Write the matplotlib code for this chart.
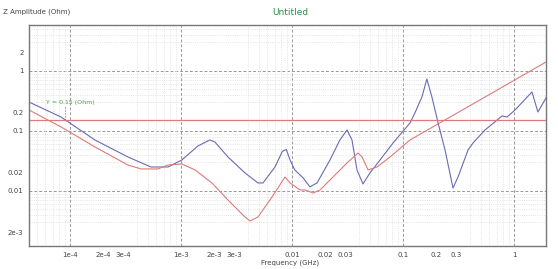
import matplotlib
matplotlib.use('Agg')
import matplotlib.pyplot as plt
import matplotlib.ticker as mticker

# frequency (GHz) / impedance (Ohm) points
blueFreq = [4.28e-5, 8.3e-5, 1.68e-4, 3.33e-4, 5.37e-4, 7.64e-4, 1.02e-3, 1.42e-3,
            1.82e-3, 2.02e-3, 2.65e-3, 3.77e-3, 4.94e-3, 5.48e-3, 7.03e-3, 8.2e-3,
            8.9e-3, 9.6e-3, 1.06e-2, 1.26e-2, 1.45e-2, 1.68e-2, 2.2e-2, 2.7e-2,
            3.13e-2, 3.47e-2, 3.85e-2, 4.36e-2, 5.04e-2, 6.21e-2, 8.13e-2, 0.1156,
            0.128, 0.148, 0.164, 0.182, 0.207, 0.239, 0.282, 0.313, 0.385, 0.427,
            0.548, 0.78, 0.865, 1.02, 1.45, 1.64, 1.94]
blueZ = [0.304, 0.171, 0.0708, 0.0369, 0.0251, 0.0251, 0.0329, 0.0562,
         0.0708, 0.0656, 0.0369, 0.0200, 0.0136, 0.0136, 0.0251, 0.046,
         0.049, 0.0329, 0.0224, 0.0165, 0.0117, 0.0136, 0.0329, 0.0708,
         0.104, 0.0708, 0.0224, 0.0131, 0.0200, 0.0329, 0.0631, 0.136,
         0.2, 0.369, 0.735, 0.369, 0.136, 0.0482, 0.0112, 0.0171, 0.0482, 0.0631,
         0.104, 0.178, 0.171, 0.224, 0.447, 0.207, 0.355]

redFreq = [4.28e-5, 8.3e-5, 1.68e-4, 3.33e-4, 4.37e-4, 6.21e-4, 7.64e-4, 1.02e-3,
           1.34e-3, 1.9e-3, 2.65e-3, 3.77e-3, 4.19e-3, 4.94e-3, 6.61e-3, 8.65e-3,
           9.6e-3, 1.18e-2, 1.31e-2, 1.55e-2, 1.79e-2, 2.34e-2, 3.13e-2, 3.93e-2,
           4.28e-2, 4.84e-2, 5.83e-2, 7.64e-2, 0.1156, 0.474, 1.94]
redZ = [0.224, 0.117, 0.0541, 0.0271, 0.0233, 0.0233, 0.0271, 0.0282,
        0.0224, 0.0136, 7.08e-3, 3.69e-3, 3.16e-3, 3.69e-3, 7.94e-3, 0.0171,
        0.0136, 0.0104, 0.0104, 9.26e-3, 0.0104, 0.0171, 0.0293, 0.0430,
        0.0369, 0.0224, 0.0251, 0.0369, 0.0708, 0.316, 1.41]

targetZ = 0.15
xTicks = [1e-4, 2e-4, 3e-4, 1e-3, 2e-3, 3e-3, 0.01, 0.02, 0.03, 0.1, 0.2, 0.3, 1, 2]
xTickLabels = ['1e-4', '2e-4', '3e-4', '1e-3', '2e-3', '3e-3', '0.01', '0.02', '0.03',
               '0.1', '0.2', '0.3', '1', '2']
yTicks = [2, 1, 0.2, 0.1, 0.02, 0.01, 2e-3]
yTickLabels = ['2', '1', '0.2', '0.1', '0.02', '0.01', '2e-3']

fig = plt.figure(figsize=(5.58, 2.69), dpi=100)
ax = fig.add_axes([0.052, 0.0855, 0.9265, 0.8215])

ax.plot(blueFreq, blueZ, color='#6a6ab4', lw=0.8)
ax.plot(redFreq, redZ, color='#e07a7a', lw=0.8)
ax.axhline(targetZ, color='#e07a7a', lw=0.9)

ax.set_xscale('log')
ax.set_yscale('log')
ax.set_xlim(4.28e-5, 1.94)
ax.set_ylim(1.21e-3, 5.84)

ax.xaxis.set_major_locator(mticker.FixedLocator(xTicks))
ax.xaxis.set_major_formatter(mticker.FixedFormatter(xTickLabels))
ax.yaxis.set_major_locator(mticker.FixedLocator(yTicks))
ax.yaxis.set_major_formatter(mticker.FixedFormatter(yTickLabels))
ax.xaxis.set_minor_locator(mticker.LogLocator(base=10, subs=[1, 2, 3, 4, 5, 6, 7, 8, 9], numticks=20))
ax.yaxis.set_minor_locator(mticker.LogLocator(base=10, subs=[1, 2, 3, 4, 5, 6, 7, 8, 9], numticks=20))
ax.xaxis.set_minor_formatter(mticker.NullFormatter())
ax.yaxis.set_minor_formatter(mticker.NullFormatter())
ax.tick_params(which='both', length=0, labelsize=5, colors='#444444', pad=4)

# minor dotted grid, then dashed decade lines
ax.grid(which='minor', color='#dcdcdc', ls=':', lw=0.6)
for d in [1e-4, 1e-3, 1e-2, 1e-1, 1]:
    ax.axvline(d, color='#999999', ls=(0, (3, 2)), lw=0.7, zorder=1)
for d in [1, 0.1, 0.01]:
    ax.axhline(d, color='#999999', ls=(0, (3, 2)), lw=0.7, zorder=1)

for s in ax.spines.values():
    s.set_color('#777777')
    s.set_linewidth(1.0)

# target marker label
ax.plot([9.0e-5, 9.0e-5], [0.25, targetZ], color='#4aa04a', ls=':', lw=0.8)
ax.text(6.1e-5, 0.304, 'Y = 0.15 (Ohm)', color='#4aa04a', fontsize=4.5, va='center')

fig.text(0.006, 0.955, 'Z Amplitude (Ohm)', fontsize=5, color='#444444', va='center')
fig.text(0.52, 0.955, 'Untitled', fontsize=6.5, color='#2e8b4a', ha='center', va='center')
fig.text(0.52, 0.025, 'Frequency (GHz)', fontsize=5, color='#444444', ha='center', va='center')

plt.savefig('out.png', dpi=100)
